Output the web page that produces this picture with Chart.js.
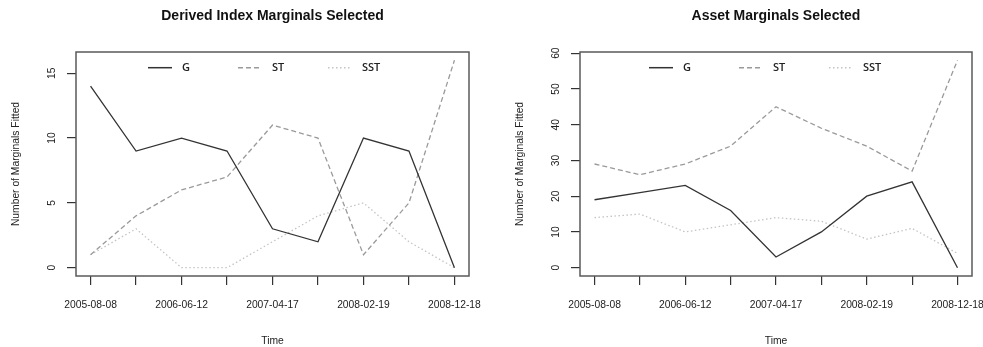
<!DOCTYPE html>
<html>
<head>
<meta charset="utf-8">
<script src="https://cdn.jsdelivr.net/npm/chart.js@4/dist/chart.umd.min.js"></script>
<style>
  html, body { margin: 0; padding: 0; background: #fff; }
  #wrap { position: relative; width: 983px; height: 347px; background: #fff; }
  canvas { position: absolute; top: 0; }
  #c1 { left: 0; }
  #c2 { left: 492px; }
</style>
</head>
<body>
<div id="wrap">
  <canvas id="c1" width="491" height="347"></canvas>
  <canvas id="c2" width="491" height="347"></canvas>
</div>
<script>
// Observation dates (only every other tick carries a label)
const dateLabels = ['2005-08-08', '', '2006-06-12', '', '2007-04-17', '', '2008-02-19', '', '2008-12-18'];
const seriesNames = ['G', 'ST', 'SST'];

// Derived index marginals
const indexG   = [14, 9, 10, 9, 3, 2, 10, 9, 0];
const indexST  = [1, 4, 6, 7, 11, 10, 1, 5, 16];
const indexSST = [1, 3, 0, 0, 2, 4, 5, 2, 0];
const indexYTicks = [0, 5, 10, 15];

// Asset marginals
const assetG   = [19, 21, 23, 16, 3, 10, 20, 24, 0];
const assetST  = [29, 26, 29, 34, 45, 39, 34, 27, 58];
const assetSST = [14, 15, 10, 12, 14, 13, 8, 11, 4];
const assetYTicks = [0, 10, 20, 30, 40, 50, 60];

const FONT = '"Liberation Sans", Arial, sans-serif';
const styles = [
  { color: '#333333', dash: [] },
  { color: '#9a9a9a', dash: [5, 3] },
  { color: '#c4c4c4', dash: [1.5, 2.5] }
];

function toPoints(arr) { return arr.map((v, i) => ({ x: i, y: v })); }

// Frame, title, rotated y tick labels and the in-plot legend
const rDecor = {
  id: 'rDecor',
  afterDraw(chart, args, opts) {
    const { ctx, chartArea: a } = chart;
    ctx.save();
    ctx.strokeStyle = '#5a5a5a';
    ctx.lineWidth = 1.5;
    ctx.setLineDash([]);
    ctx.strokeRect(a.left, a.top, a.right - a.left, a.bottom - a.top);

    // title
    ctx.fillStyle = '#111';
    ctx.font = 'bold 14px ' + FONT;
    ctx.textAlign = 'center';
    ctx.textBaseline = 'middle';
    ctx.fillText(opts.title, (a.left + a.right) / 2, 16.5);

    // y tick labels, rotated like base graphics
    const ys = chart.scales.y;
    ctx.font = '10.3px ' + FONT;
    ctx.fillStyle = '#222';
    ys.ticks.forEach(t => {
      const py = ys.getPixelForValue(t.value);
      ctx.save();
      ctx.translate(a.left - 24, py);
      ctx.rotate(-Math.PI / 2);
      ctx.textAlign = 'center';
      ctx.textBaseline = 'middle';
      ctx.fillText(String(t.value), 0, 0);
      ctx.restore();
    });

    // legend
    const ly = 67.7;
    chart.data.datasets.forEach((ds, i) => {
      const x0 = opts.legendX + i * 90;
      ctx.beginPath();
      ctx.strokeStyle = ds.borderColor;
      ctx.lineWidth = 1.5;
      ctx.setLineDash(ds.borderDash || []);
      ctx.moveTo(x0, ly);
      ctx.lineTo(x0 + 24, ly);
      ctx.stroke();
      ctx.setLineDash([]);
      ctx.fillStyle = '#222';
      ctx.font = '600 11px "Open Sans", ' + FONT;
      ctx.textAlign = 'left';
      ctx.textBaseline = 'middle';
      ctx.fillText(ds.label, x0 + 34, ly);
    });
    ctx.restore();
  }
};

function panel(id, title, series, yTicks, yMin, yMax, boxLeft, padRight, yTitlePad, legendX) {
  const datasets = series.map((s, i) => ({
    label: seriesNames[i],
    data: toPoints(s),
    borderColor: styles[i].color,
    borderDash: styles[i].dash,
    borderWidth: 1.3,
    pointRadius: 0,
    tension: 0,
    fill: false
  }));
  return new Chart(document.getElementById(id), {
    type: 'line',
    data: { datasets },
    options: {
      responsive: false,
      animation: false,
      layout: { padding: { left: 0, right: padRight, top: 52, bottom: 0 } },
      scales: {
        x: {
          type: 'linear',
          min: -0.32, max: 8.32,
          afterBuildTicks: s => { s.ticks = dateLabels.map((_, i) => ({ value: i })); },
          afterFit: s => { s.height = 71; s.paddingLeft = 0; s.paddingRight = 0; },
          ticks: {
            autoSkip: false, maxRotation: 0, minRotation: 0,
            padding: 14,
            color: '#222',
            font: { family: FONT, size: 10.3 },
            callback: v => dateLabels[v]
          },
          grid: { drawOnChartArea: false, drawTicks: true, tickLength: 9, color: '#333', lineWidth: 1.2 },
          border: { display: false },
          title: { display: true, text: 'Time', color: '#222', font: { family: FONT, size: 10.3 }, padding: { top: 0, bottom: 0 } }
        },
        y: {
          type: 'linear',
          min: yMin, max: yMax,
          afterBuildTicks: s => { s.ticks = yTicks.map(v => ({ value: v })); },
          afterFit: s => { s.width = boxLeft; s.paddingTop = 0; s.paddingBottom = 0; },
          ticks: { display: false },
          grid: { drawOnChartArea: false, drawTicks: true, tickLength: 9, color: '#333', lineWidth: 1.2 },
          border: { display: false },
          title: { display: true, text: 'Number of Marginals Fitted', color: '#222', font: { family: FONT, size: 10.3 }, padding: { top: yTitlePad + 1, bottom: 0 } }
        }
      },
      plugins: {
        legend: { display: false },
        tooltip: { enabled: false },
        rDecor: { title, legendX }
      }
    },
    plugins: [rDecor]
  });
}

panel('c1', 'Derived Index Marginals Selected', [indexG, indexST, indexSST], indexYTicks, -0.64, 16.64, 76, 22, 8.8, 148);
panel('c2', 'Asset Marginals Selected', [assetG, assetST, assetSST], assetYTicks, -2.32, 60.32, 88, 11, 20.5, 157);
</script>
</body>
</html>
